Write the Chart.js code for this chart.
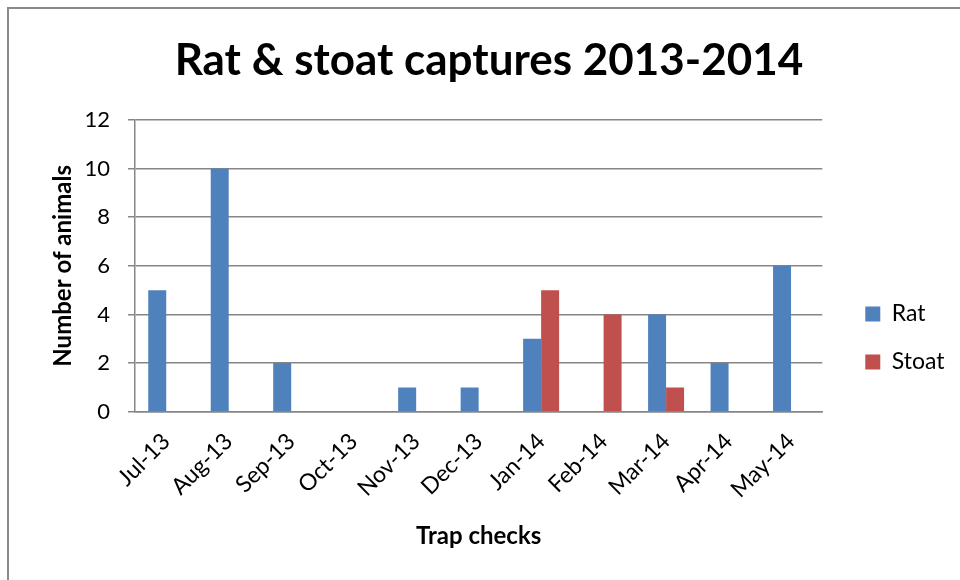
<!DOCTYPE html>
<html>
<head>
<meta charset="utf-8">
<script src="https://cdn.jsdelivr.net/npm/chart.js@4/dist/chart.umd.min.js"></script>
<style>
  html, body { margin: 0; padding: 0; background: #fff; }
  #wrap { position: relative; width: 960px; height: 580px; overflow: hidden; }
  #frame { position: absolute; left: 7px; top: 7px; width: 1000px; height: 1000px;
           border-left: 2px solid #8a8a8a; border-top: 2px solid #8a8a8a; box-sizing: border-box; }
  canvas { position: absolute; left: 0; top: 0; }
</style>
</head>
<body>
<div id="wrap">
  <div id="frame"></div>
  <canvas id="c" width="960" height="580"></canvas>
</div>
<script>
const categories = ["Jul-13","Aug-13","Sep-13","Oct-13","Nov-13","Dec-13","Jan-14","Feb-14","Mar-14","Apr-14","May-14"];
const ratValues = [5, 10, 2, 0, 1, 1, 3, 0, 4, 2, 6];
const stoatValues = [0, 0, 0, 0, 0, 0, 5, 4, 1, 0, 0];
const yTicks = [0, 2, 4, 6, 8, 10, 12];

const FONT = "Lato, 'Open Sans', sans-serif";
const GRID = "#868686";
const PAD_L = 23.5;

new Chart(document.getElementById('c'), {
  type: 'bar',
  data: {
    labels: categories,
    datasets: [
      { label: 'Rat', data: ratValues, backgroundColor: '#4F81BD', borderWidth: 0, yAxisID: 'y' },
      { label: 'Stoat', data: stoatValues, backgroundColor: '#C0504D', borderWidth: 0, yAxisID: 'y' }
    ]
  },
  options: {
    responsive: false,
    animation: false,
    devicePixelRatio: 1,
    layout: { padding: { left: PAD_L, right: 5.5, top: 0, bottom: 29 } },
    datasets: { bar: { categoryPercentage: 0.576, barPercentage: 1.0 } },
    plugins: {
      title: {
        display: true,
        text: 'Rat & stoat captures 2013-2014',
        color: '#000',
        font: { family: FONT, size: 44, weight: 'bold', lineHeight: 1.2 },
        padding: { top: 34, bottom: 33.2 }
      },
      legend: {
        position: 'right',
        align: 'center',
        title: { display: true, text: '', font: { size: 10, lineHeight: 1.2 }, padding: { top: 113, bottom: 0 } },
        labels: {
          color: '#000',
          boxWidth: 15, boxHeight: 15,
          padding: 25,
          font: { family: FONT, size: 23 }
        }
      },
      tooltip: { enabled: false }
    },
    scales: {
      x: {
        grid: { display: false, drawTicks: false },
        border: { display: true, color: GRID, width: 1.5 },
        ticks: {
          color: '#000', maxRotation: 45, minRotation: 45, padding: 16,
          font: { family: FONT, size: 23 }
        },
        title: {
          display: true, text: 'Trap checks', color: '#000',
          font: { family: FONT, size: 24, weight: 'bold', lineHeight: 1.2 },
          padding: { top: 4, bottom: 0 }
        },
        afterFit: s => { s.height = 580 - 29 - 411.7; }
      },
      y: {
        min: 0, max: 12,
        afterBuildTicks: s => { s.ticks = yTicks.map(v => ({ value: v })); },
        grid: { color: GRID, lineWidth: 1.5, tickLength: 7, drawTicks: true },
        border: { display: true, color: GRID, width: 1.5 },
        ticks: {
          color: '#000', padding: 18,
          font: { family: FONT, size: 22 }
        },
        title: {
          display: true, text: 'Number of animals', color: '#000',
          font: { family: FONT, size: 24, weight: 'bold', lineHeight: 1.2 },
          padding: { top: 63 - 14.4 - PAD_L, bottom: 0 }
        },
        afterFit: s => { s.width = 135 - PAD_L; }
      },
      gap: {
        type: 'linear',
        position: 'right',
        display: true,
        grid: { display: false, drawTicks: false },
        border: { display: false },
        ticks: { display: false },
        afterFit: s => { s.width = 18; }
      }
    }
  }
});
</script>
</body>
</html>
